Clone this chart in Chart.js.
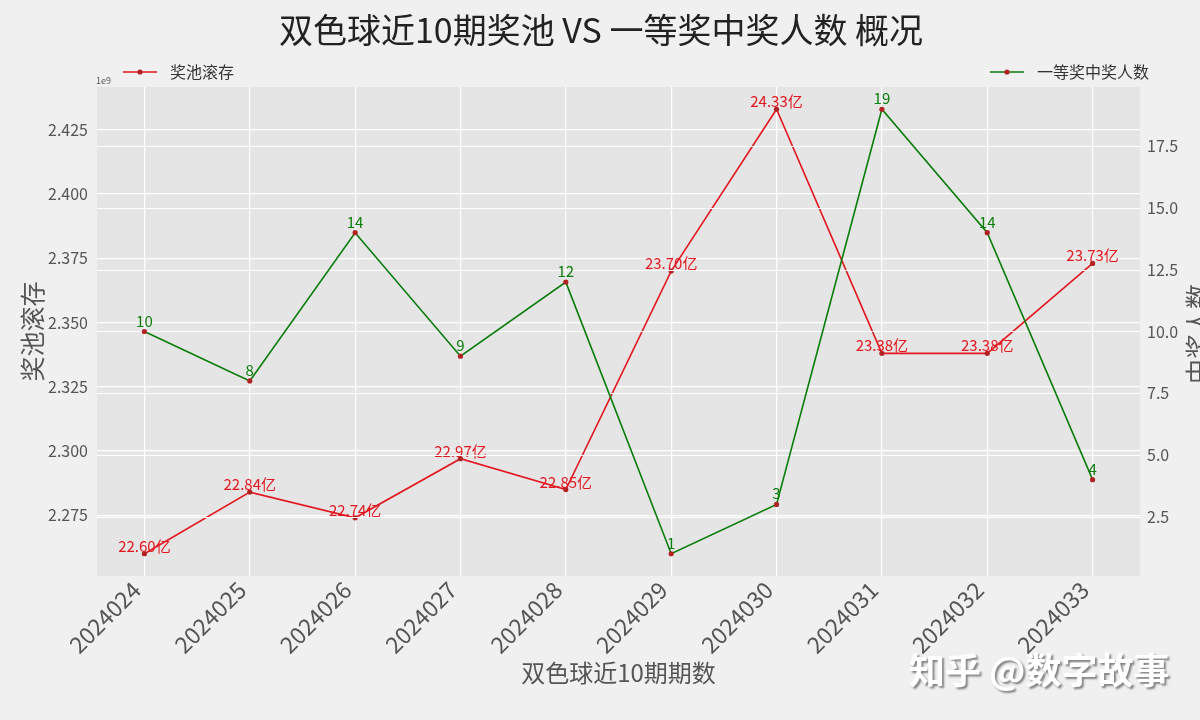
<!DOCTYPE html>
<html>
<head>
<meta charset="utf-8">
<script src="https://cdn.jsdelivr.net/npm/chart.js@4"></script>
<style>
  html, body { margin: 0; padding: 0; background: #f0f0f0; }
  #wrap { width: 1200px; height: 720px; }
</style>
</head>
<body>
<div id="wrap"><canvas id="lotteryChart" width="1200" height="720"></canvas></div>
<script>
// 双色球近10期数据
const periods = ["2024024", "2024025", "2024026", "2024027", "2024028",
                 "2024029", "2024030", "2024031", "2024032", "2024033"];
const poolValues = [2.260e9, 2.284e9, 2.274e9, 2.297e9, 2.285e9,
                    2.370e9, 2.433e9, 2.338e9, 2.338e9, 2.373e9];
const winnerCounts = [10, 8, 14, 9, 12, 1, 3, 19, 14, 4];
const poolTicks = [2.275e9, 2.300e9, 2.325e9, 2.350e9, 2.375e9, 2.400e9, 2.425e9];
const winnerTicks = [2.5, 5.0, 7.5, 10.0, 12.5, 15.0, 17.5];

const FONT = '"Noto Sans CJK SC", "Noto Sans", sans-serif';
const RED = "#e3171f";
const GREEN = "#0a7d0a";
const MARKER = "#b22222";

// matplotlib-like 5% margins
function padRange(values) {
  const lo = Math.min(...values);
  const hi = Math.max(...values);
  const m = (hi - lo) * 0.05;
  return { min: lo - m, max: hi + m };
}
const xRange = padRange(periods.map((p, i) => i));
const poolRange = padRange(poolValues);
const winnerRange = padRange(winnerCounts);

function drawLegendItem(ctx, x, y, color, text) {
  ctx.strokeStyle = color;
  ctx.lineWidth = 1.6;
  ctx.beginPath();
  ctx.moveTo(x, y);
  ctx.lineTo(x + 34, y);
  ctx.stroke();
  ctx.fillStyle = MARKER;
  ctx.beginPath();
  ctx.arc(x + 17, y, 2.6, 0, Math.PI * 2);
  ctx.fill();
  ctx.fillStyle = "#333";
  ctx.font = "16px " + FONT;
  ctx.textAlign = "left";
  ctx.textBaseline = "middle";
  ctx.fillText(text, x + 47, y);
}

const decorPlugin = {
  id: "decor",
  beforeDraw(chart) {
    const { ctx, chartArea: a } = chart;
    ctx.save();
    ctx.fillStyle = "#f0f0f0";
    ctx.fillRect(0, 0, chart.width, chart.height);
    ctx.fillStyle = "#e5e5e5";
    ctx.fillRect(a.left, a.top, a.right - a.left, a.bottom - a.top);
    ctx.restore();
  },
  afterDatasetDraw(chart, args) {
    const { ctx, chartArea: a } = chart;
    const meta = args.meta;
    ctx.save();
    ctx.font = "15px " + FONT;
    ctx.textAlign = "center";
    ctx.textBaseline = "alphabetic";
    if (args.index === 0) {
      ctx.fillStyle = RED;
      meta.data.forEach((pt, i) => {
        ctx.fillText((poolValues[i] / 1e8).toFixed(2) + "亿", pt.x, pt.y - 2);
      });
      // twin axis grid sits above the first series
      const yR = chart.scales.yWinners;
      ctx.strokeStyle = "#ffffff";
      ctx.lineWidth = 1.2;
      winnerTicks.forEach((v) => {
        const y = Math.round(yR.getPixelForValue(v)) + 0.5;
        ctx.beginPath();
        ctx.moveTo(a.left, y);
        ctx.lineTo(a.right, y);
        ctx.stroke();
      });
    } else {
      ctx.fillStyle = GREEN;
      meta.data.forEach((pt, i) => {
        ctx.fillText(String(winnerCounts[i]), pt.x, pt.y - 5);
      });
    }
    ctx.restore();
  },
  afterDraw(chart) {
    const { ctx } = chart;
    ctx.save();
    // title
    ctx.fillStyle = "#222";
    ctx.font = "34px " + FONT;
    ctx.textAlign = "center";
    ctx.textBaseline = "middle";
    ctx.fillText("双色球近10期奖池 VS 一等奖中奖人数 概况", 601, 30);

    drawLegendItem(ctx, 123, 72, RED, "奖池滚存");
    drawLegendItem(ctx, 990, 72, GREEN, "一等奖中奖人数");

    // offset text
    ctx.fillStyle = "#555";
    ctx.font = "9px " + FONT;
    ctx.textAlign = "left";
    ctx.textBaseline = "alphabetic";
    ctx.fillText("1e9", 96, 84);

    // right axis title
    ctx.save();
    ctx.translate(1197, 334);
    ctx.rotate(-Math.PI / 2);
    ctx.fillStyle = "#555";
    ctx.font = "25px " + FONT;
    ctx.textAlign = "center";
    ctx.textBaseline = "middle";
    ctx.fillText("中奖人数", 0, 0);
    ctx.restore();

    // watermark
    ctx.font = "bold 36px " + FONT;
    ctx.textAlign = "left";
    ctx.textBaseline = "middle";
    ctx.shadowColor = "rgba(0,0,0,0.45)";
    ctx.shadowOffsetX = 2;
    ctx.shadowOffsetY = 2;
    ctx.shadowBlur = 2;
    ctx.fillStyle = "#ffffff";
    ctx.fillText("知乎 @数字故事", 909, 670);
    ctx.restore();
  },
};

Chart.defaults.font.family = FONT;
Chart.defaults.color = "#555";

const config = {
  type: "line",
  data: {
    datasets: [
      {
        label: "奖池滚存",
        data: poolValues.map((v, i) => ({ x: i, y: v })),
        yAxisID: "yPool",
        borderColor: RED,
        borderWidth: 1.6,
        pointRadius: 2.6,
        pointBorderWidth: 0,
        pointBackgroundColor: MARKER,
        tension: 0,
        order: 2,
      },
      {
        label: "一等奖中奖人数",
        data: winnerCounts.map((v, i) => ({ x: i, y: v })),
        yAxisID: "yWinners",
        borderColor: GREEN,
        borderWidth: 1.6,
        pointRadius: 2.6,
        pointBorderWidth: 0,
        pointBackgroundColor: MARKER,
        tension: 0,
        order: 1,
      },
    ],
  },
  options: {
    responsive: false,
    animation: false,
    devicePixelRatio: 1,
    layout: { padding: { top: 87, left: 0, right: 0, bottom: 0 } },
    scales: {
      x: {
        type: "linear",
        position: "bottom",
        min: xRange.min,
        max: xRange.max,
        afterBuildTicks: (scale) => {
          scale.ticks = periods.map((p, i) => ({ value: i }));
        },
        afterFit: (scale) => {
          scale.height = 144;
        },
        ticks: {
          autoSkip: false,
          minRotation: 45,
          maxRotation: 45,
          padding: 0,
          labelOffset: -8,
          color: "#555",
          font: { size: 23 },
          callback: (v) => periods[v],
        },
        grid: { color: "#ffffff", lineWidth: 1.2, drawTicks: false },
        border: { display: false },
        title: {
          display: true,
          text: "双色球近10期期数",
          color: "#555",
          font: { size: 24 },
          padding: { top: 0, bottom: 33 },
        },
      },
      yPool: {
        type: "linear",
        position: "left",
        min: poolRange.min,
        max: poolRange.max,
        afterBuildTicks: (scale) => {
          scale.ticks = poolTicks.map((v) => ({ value: v }));
        },
        afterFit: (scale) => {
          scale.width = 97;
        },
        ticks: {
          padding: 9,
          color: "#555",
          font: { size: 16 },
          callback: (v) => (v / 1e9).toFixed(3),
        },
        grid: { color: "#ffffff", lineWidth: 1.2, drawTicks: false },
        border: { display: false },
        title: {
          display: true,
          text: "奖池滚存",
          color: "#555",
          font: { size: 25 },
          padding: { top: 17, bottom: 0 },
        },
      },
      yWinners: {
        type: "linear",
        position: "right",
        min: winnerRange.min,
        max: winnerRange.max,
        afterBuildTicks: (scale) => {
          scale.ticks = winnerTicks.map((v) => ({ value: v }));
        },
        afterFit: (scale) => {
          scale.width = 60;
        },
        ticks: {
          padding: 7,
          color: "#555",
          font: { size: 16 },
          callback: (v) => v.toFixed(1),
        },
        grid: { display: false, drawTicks: false },
        border: { display: false },
      },
    },
    plugins: {
      legend: { display: false },
      title: { display: false },
      tooltip: { enabled: false },
    },
  },
  plugins: [decorPlugin],
};

const lotteryChart = new Chart(document.getElementById("lotteryChart"), config);
</script>
</body>
</html>
